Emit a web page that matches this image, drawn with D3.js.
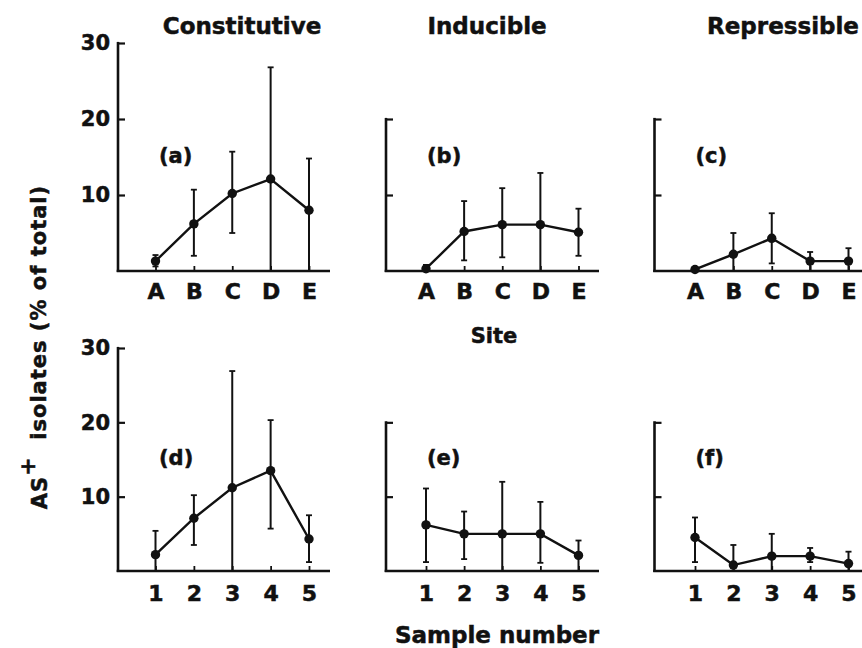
<!DOCTYPE html>
<html>
<head>
<meta charset="utf-8">
<script src="https://cdn.jsdelivr.net/npm/d3@7"></script>
<style>
  html, body { margin: 0; padding: 0; background: #fff; }
  svg { display: block; }
  text { font-family: "DejaVu Sans", sans-serif; font-weight: bold; fill: #111; stroke: #111; stroke-width: 0.5px; }
</style>
</head>
<body>
<script>
// ---------------- DATA ----------------
const siteLabels = ["A", "B", "C", "D", "E"];
const sampleLabels = ["1", "2", "3", "4", "5"];
const columnTitles = ["Constitutive", "Inducible", "Repressible"];
const panelLetters = ["(a)", "(b)", "(c)", "(d)", "(e)", "(f)"];
const yTickValues = [10, 20, 30];

// Row 1: by site
const constitutiveSite   = [1.3, 6.2, 10.2, 12.1, 8.0];
const constitutiveSiteLo = [0.6, 2.0, 5.0, 0, 0];
const constitutiveSiteHi = [2.1, 10.7, 15.7, 26.8, 14.8];

const inducibleSite   = [0.3, 5.2, 6.1, 6.1, 5.1];
const inducibleSiteLo = [0, 1.4, 1.8, 0, 2.0];
const inducibleSiteHi = [0.8, 9.2, 10.9, 12.9, 8.2];

const repressibleSite   = [0.2, 2.2, 4.3, 1.3, 1.3];
const repressibleSiteLo = [0.2, 0, 1.0, 0, 0];
const repressibleSiteHi = [0.2, 5.0, 7.6, 2.5, 3.0];

// Row 2: by sample number
const constitutiveSample   = [2.2, 7.1, 11.2, 13.5, 4.3];
const constitutiveSampleLo = [0, 3.5, 0, 5.7, 1.2];
const constitutiveSampleHi = [5.4, 10.2, 26.9, 20.3, 7.5];

const inducibleSample   = [6.2, 5.0, 5.0, 5.0, 2.1];
const inducibleSampleLo = [1.2, 1.6, 0, 1.1, 0];
const inducibleSampleHi = [11.1, 8.0, 12.0, 9.3, 4.1];

const repressibleSample   = [4.5, 0.8, 2.0, 2.0, 1.0];
const repressibleSampleLo = [1.2, 0, 0, 1.2, 0];
const repressibleSampleHi = [7.2, 3.5, 5.0, 3.1, 2.6];

// ---------------- LAYOUT ----------------
const W = 862, H = 648;
const svg = d3.select("body").append("svg").attr("width", W).attr("height", H);

const cols = [
  { axisX: 118,   x0: 155.5, x1: 309,   xEnd: 330, yTop: 30, labels: true },
  { axisX: 386,   x0: 426,   x1: 578.5, xEnd: 599, yTop: 20, labels: false },
  { axisX: 654.5, x0: 695,   x1: 848.5, xEnd: 862, yTop: 20, labels: false }
];
const rows = [
  { y0: 271, y30: 43,  cats: siteLabels,   pad: 12, letterDy: 108 },
  { y0: 571, y30: 348, cats: sampleLabels, pad: 14, letterDy: 106 }
];

const panels = [
  { r: 0, c: 0, v: constitutiveSite,   lo: constitutiveSiteLo,   hi: constitutiveSiteHi },
  { r: 0, c: 1, v: inducibleSite,      lo: inducibleSiteLo,      hi: inducibleSiteHi },
  { r: 0, c: 2, v: repressibleSite,    lo: repressibleSiteLo,    hi: repressibleSiteHi },
  { r: 1, c: 0, v: constitutiveSample, lo: constitutiveSampleLo, hi: constitutiveSampleHi },
  { r: 1, c: 1, v: inducibleSample,    lo: inducibleSampleLo,    hi: inducibleSampleHi },
  { r: 1, c: 2, v: repressibleSample,  lo: repressibleSampleLo,  hi: repressibleSampleHi }
];

const ink = "#111";

panels.forEach((p, idx) => {
  const col = cols[p.c], row = rows[p.r];
  const g = svg.append("g");
  const x = d3.scalePoint().domain(row.cats).range([col.x0, col.x1]);
  const y = d3.scaleLinear().domain([0, 30]).range([row.y0, row.y30]);

  // Y axis
  const yAxis = d3.axisLeft(y)
    .tickValues(yTickValues.filter(t => t <= col.yTop))
    .tickSize(-7).tickSizeOuter(0).tickPadding(8)
    .tickFormat(col.labels ? d3.format("d") : () => "");
  const ya = g.append("g").attr("transform", `translate(${col.axisX},0)`).call(yAxis);
  ya.select(".domain").remove();
  ya.selectAll(".tick line").attr("stroke", ink).attr("stroke-width", 2.2);
  ya.selectAll(".tick text").style("font-size", "21px").attr("fill", ink)
    .style("font-family", "DejaVu Sans").style("font-weight", "bold");
  g.append("line")
    .attr("x1", col.axisX).attr("x2", col.axisX)
    .attr("y1", y(0) + 1).attr("y2", y(col.yTop) - 1.1)
    .attr("stroke", ink).attr("stroke-width", 2.6);

  // X axis
  const xAxis = d3.axisBottom(x).tickSize(-5).tickSizeOuter(0).tickPadding(row.pad);
  const xa = g.append("g").attr("transform", `translate(0,${row.y0})`).call(xAxis);
  xa.select(".domain").remove();
  xa.selectAll(".tick line").attr("stroke", ink).attr("stroke-width", 1.8);
  xa.selectAll(".tick text").style("font-size", "22px").attr("fill", ink)
    .style("font-family", "DejaVu Sans").style("font-weight", "bold");
  g.append("line")
    .attr("x1", col.axisX - 1.3).attr("x2", col.xEnd)
    .attr("y1", y(0)).attr("y2", y(0))
    .attr("stroke", ink).attr("stroke-width", 2.6);

  // Error bars
  const eb = g.append("g");
  row.cats.forEach((cat, i) => {
    if (p.hi[i] === p.lo[i]) return;
    const cx = x(cat);
    eb.append("line").attr("x1", cx).attr("x2", cx)
      .attr("y1", y(p.lo[i])).attr("y2", y(p.hi[i]))
      .attr("stroke", ink).attr("stroke-width", 2);
    eb.append("line").attr("x1", cx - 3).attr("x2", cx + 3)
      .attr("y1", y(p.hi[i])).attr("y2", y(p.hi[i]))
      .attr("stroke", ink).attr("stroke-width", 1.8);
    if (p.lo[i] > 0) {
      eb.append("line").attr("x1", cx - 3).attr("x2", cx + 3)
        .attr("y1", y(p.lo[i])).attr("y2", y(p.lo[i]))
        .attr("stroke", ink).attr("stroke-width", 1.8);
    }
  });

  // Line
  const line = d3.line().x((d, i) => x(row.cats[i])).y(d => y(d));
  g.append("path").datum(p.v).attr("d", line)
    .attr("fill", "none").attr("stroke", ink).attr("stroke-width", 2.4);

  // Markers
  g.selectAll("circle.pt").data(p.v).enter().append("circle")
    .attr("class", "pt")
    .attr("cx", (d, i) => x(row.cats[i])).attr("cy", d => y(d))
    .attr("r", 4.7).attr("fill", ink);

  // Panel letter
  g.append("text")
    .attr("x", col.axisX + 41).attr("y", row.y0 - row.letterDy)
    .style("font-size", "21px")
    .text(panelLetters[idx]);
});

// Column titles
const titleX = [242, 487, 783];
columnTitles.forEach((t, i) => {
  svg.append("text").attr("x", titleX[i]).attr("y", 34)
    .attr("text-anchor", "middle").style("font-size", "23px").text(t);
});

// Axis titles
svg.append("text").attr("x", 494).attr("y", 343).attr("text-anchor", "middle")
  .style("font-size", "21px").text("Site");
svg.append("text").attr("x", 497).attr("y", 643).attr("text-anchor", "middle")
  .style("font-size", "23px").text("Sample number");

const yl = svg.append("text")
  .attr("transform", "translate(47,347) rotate(-90)")
  .attr("text-anchor", "middle")
  .style("font-size", "21px").style("letter-spacing", "1px")
  .style("white-space", "pre");
yl.append("tspan").text("AS");
yl.append("tspan").attr("dy", "-0.55em").style("font-size", "22px").text("+");
yl.append("tspan").attr("dy", "0.55em").text("  isolates (% of total)");
</script>
</body>
</html>
